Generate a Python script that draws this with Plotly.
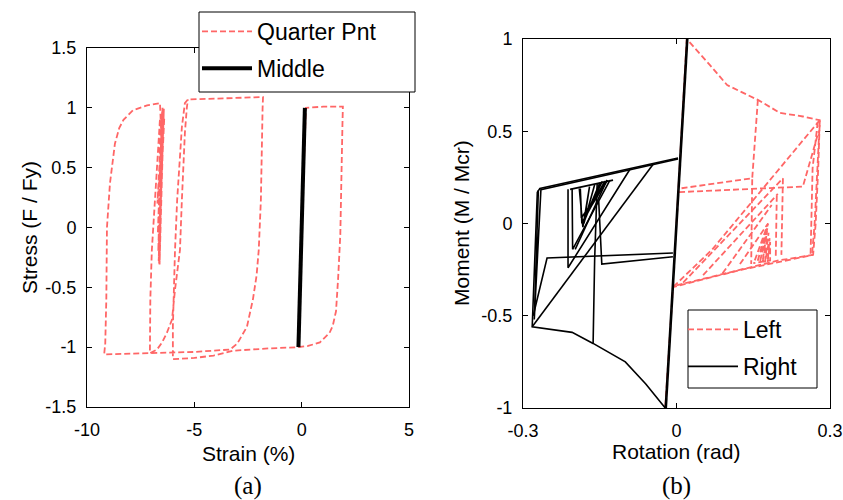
import plotly.graph_objects as go

# ---------------- Panel (a): Stress-strain ----------------
qp_x = [0.0, 0.2, 1.0, 1.92, 1.9, 1.85, 1.8, 1.7, 1.6, 1.45, 1.3, 0.85, 0.3, -0.15,
        -1.5, -3.2, -4.1, -5.0, -6.0,
        -6.0, -5.95, -5.9, -5.8, -5.65, -5.58, -5.44, -5.3, -3.5, -1.8,
        -1.82, -1.85, -1.9, -2.0, -2.1, -2.27, -2.55, -3.0, -3.34, -5.0, -7.07, -9.2,
        -9.15, -9.1, -9.07, -8.93, -8.7, -8.5, -8.3, -7.86, -7.2, -6.6,
        -6.5, -6.65, -6.45, -6.55, -6.62, -6.42, -6.6, -6.45, -6.65, -6.42, -6.58, -6.64, -6.45,
        -6.7, -6.5, -6.68, -6.4, -6.72, -6.48, -6.66, -6.44, -6.62,
        -6.6, -6.74, -6.88, -6.98, -7.05, -7.07,
        -6.74, -6.5, -6.28, -6.04, -5.9, -5.75, -5.67, -5.58, -5.5, -5.44, -5.35, -5.3]
qp_y = [0.0, 1.0, 1.01, 1.01, 0.86, 0.5, -0.06, -0.42, -0.7, -0.82, -0.88, -0.96, -0.99, -1.0,
        -1.01, -1.03, -1.07, -1.09, -1.1,
        -0.83, -0.5, -0.19, 0.23, 0.6, 0.84, 1.04, 1.07, 1.08, 1.09,
        1.0, 0.79, 0.23, -0.19, -0.4, -0.6, -0.83, -0.97, -1.02, -1.04, -1.05, -1.06,
        -0.97, -0.6, 0.0, 0.37, 0.7, 0.83, 0.9, 0.98, 1.02, 1.04,
        0.6, -0.25, 0.98, 0.3, -0.31, 1.0, 0.0, 0.95, -0.15, 0.99, 0.1, -0.3, 1.0,
        -0.05, 0.97, -0.2, 0.92, 0.2, 1.0, -0.28, 0.96, 0.4,
        0.91, 0.5, 0.09, -0.19, -0.6, -1.05,
        -1.02, -0.96, -0.88, -0.77, -0.52, -0.3, -0.19, 0.23, 0.6, 0.79, 1.0, 1.07]

mid_x = [-0.15, -0.05, 0.05, 0.15]
mid_y = [-1.0, -0.33, 0.33, 1.0]

strain_ticks = [-10, -5, 0, 5]
strain_text = ["-10", "-5", "0", "5"]
stress_ticks = [-1.5, -1.0, -0.5, 0.0, 0.5, 1.0, 1.5]
stress_text = ["-1.5", "-1", "-0.5", "0", "0.5", "1", "1.5"]

# ---------------- Panel (b): Moment-rotation ----------------
left_x = [0.0, 0.02, 0.065, 0.099, 0.159, 0.202, 0.247, 0.28, 0.277, 0.272, 0.267, 0.12, -0.007, -0.022, None,
          0.276, 0.266, 0.262, None,
          0.28, 0.27, 0.265, None,
          0.28, 0.07, -0.007, None,
          0.159, 0.148, 0.007, None,
          0.005, 0.247, 0.278, None,
          0.208, 0.205, None,
          0.196, 0.194, None,
          0.148, 0.146, None,
          0.013, 0.208, None,
          0.052, 0.198, None,
          0.09, 0.186, None,
          0.124, 0.179, None,
          0.0, 0.2, 0.267, None,
          0.153, 0.179, 0.158, 0.178, 0.163, 0.177, 0.168, 0.18, 0.173, 0.182, 0.178, 0.183, 0.183, 0.15]
left_y = [0.0, 1.0, 0.86, 0.75, 0.67, 0.6, 0.58, 0.56, 0.3, 0.0, -0.17, -0.255, -0.345, -1.0, None,
          0.55, 0.3, -0.17, None,
          0.555, 0.0, -0.165, None,
          0.56, -0.14, -0.345, None,
          0.67, 0.245, 0.19, None,
          0.17, 0.2, 0.5, None,
          0.245, -0.17, None,
          0.15, -0.18, None,
          0.24, -0.22, None,
          -0.32, 0.245, None,
          -0.28, 0.16, None,
          -0.27, 0.1, None,
          -0.22, 0.0, None,
          -0.335, -0.2, -0.17, None,
          -0.2, 0.0, -0.21, -0.02, -0.21, -0.04, -0.21, -0.05, -0.21, -0.08, -0.21, -0.1, -0.2, -0.215]

right_x = [0.02, -0.022, -0.06, -0.1, -0.163, -0.204, -0.282, -0.272, -0.267, 0.003, None,
           0.022, -0.02, None,
           0.003, -0.265, -0.278, -0.27, None,
           -0.28, -0.253, -0.007, None,
           -0.282, -0.046, None,
           -0.163, -0.16, -0.155, None,
           -0.152, -0.146, -0.007, None,
           -0.212, -0.212, -0.09, None,
           -0.204, -0.203, -0.13, None,
           -0.208, -0.124, None,
           -0.19, -0.183, -0.17, -0.181, -0.16, -0.179, -0.15, -0.177, -0.14, -0.174, -0.135, -0.186, -0.188, -0.185, -0.145, None,
           -0.198, -0.136]
right_y = [1.0, -1.0, -0.87, -0.75, -0.65, -0.59, -0.56, 0.17, 0.19, 0.355, None,
           1.0, -1.0, None,
           0.35, 0.183, -0.52, 0.18, None,
           -0.5, -0.187, -0.16, None,
           -0.56, 0.32, None,
           -0.65, -0.2, 0.22, None,
           0.12, -0.22, -0.18, None,
           0.185, -0.24, 0.298, None,
           0.19, -0.14, 0.235, None,
           0.185, 0.235, None,
           0.19, -0.02, 0.2, 0.0, 0.21, 0.02, 0.22, 0.04, 0.23, 0.06, 0.235, 0.03, 0.19, 0.0, 0.228, None,
           -0.14, 0.235]

rot_ticks = [-0.3, 0.0, 0.3]
rot_text = ["-0.3", "0", "0.3"]
mom_ticks = [-1.0, -0.5, 0.0, 0.5, 1.0]
mom_text = ["-1", "-0.5", "0", "0.5", "1"]

RED = "rgb(255,102,102)"
DASH = "6px,3px"
W, H = 843, 500

fig = go.Figure()
fig.add_trace(go.Scatter(x=qp_x, y=qp_y, mode="lines", name="Quarter Pnt", legendgroup="a1",
                         line=dict(color=RED, width=1.8, dash=DASH),
                         xaxis="x", yaxis="y", legend="legend"))
fig.add_trace(go.Scatter(x=mid_x, y=mid_y, mode="lines", name="Middle", legendgroup="a2",
                         line=dict(color="black", width=4),
                         xaxis="x", yaxis="y", legend="legend"))
fig.add_trace(go.Scatter(x=left_x, y=left_y, mode="lines", name="Left", legendgroup="b1",
                         line=dict(color=RED, width=1.8, dash=DASH), connectgaps=False,
                         xaxis="x2", yaxis="y2", legend="legend2"))
fig.add_trace(go.Scatter(x=right_x, y=right_y, mode="lines", name="Right", legendgroup="b2",
                         line=dict(color="black", width=1.6), connectgaps=False,
                         xaxis="x2", yaxis="y2", legend="legend2"))

# pixel -> paper helpers
def px(x):
    return x / W

def py(y):
    return 1 - y / H

axis_common = dict(showline=True, linecolor="black", linewidth=1, mirror="allticks",
                   ticks="inside", ticklen=5, tickcolor="black", showgrid=False,
                   zeroline=False, automargin=False,
                   tickfont=dict(family="Liberation Sans", size=18, color="black"))

legend_font = dict(family="Liberation Sans", size=23, color="black")
fig.update_layout(
    width=W, height=H, margin=dict(l=0, r=0, t=0, b=0, pad=0, autoexpand=False),
    paper_bgcolor="white", plot_bgcolor="white",
    xaxis=dict(domain=[px(87), px(409)], range=[-10, 5], tickvals=strain_ticks, ticktext=strain_text,
               anchor="y", ticklabelstandoff=6, **axis_common),
    yaxis=dict(domain=[py(407), py(48)], range=[-1.5, 1.5], tickvals=stress_ticks, ticktext=stress_text,
               anchor="x", ticklabelstandoff=6, **axis_common),
    xaxis2=dict(domain=[px(523), px(830)], range=[-0.3, 0.3], tickvals=rot_ticks, ticktext=rot_text,
                anchor="y2", ticklabelstandoff=6, **axis_common),
    yaxis2=dict(domain=[py(408), py(39)], range=[-1, 1], tickvals=mom_ticks, ticktext=mom_text,
                anchor="x2", ticklabelstandoff=6, **axis_common),
    legend=dict(x=px(197), y=py(10), xanchor="left", yanchor="top", bgcolor="rgba(0,0,0,0)",
                borderwidth=0, itemwidth=50, tracegroupgap=4, font=legend_font),
    legend2=dict(x=px(683), y=py(308), xanchor="left", yanchor="top", bgcolor="rgba(0,0,0,0)",
                 borderwidth=0, itemwidth=50, tracegroupgap=4, font=legend_font),
    showlegend=True,
)

# legend frames
for (x0, y0, x1, y1) in [(199, 12, 415, 92), (688, 310, 817, 388)]:
    fig.add_shape(type="rect", xref="paper", yref="paper", layer="above",
                  x0=px(x0), x1=px(x1), y0=py(y1), y1=py(y0),
                  line=dict(color="black", width=1), fillcolor="white")

title_font = dict(family="Liberation Sans", size=21, color="black")
cap_font = dict(family="Liberation Serif", size=25, color="black")
annotations = [
    dict(text="Strain (%)", x=px(248), y=py(453), font=title_font),
    dict(text="Stress (F / Fy)", x=px(30), y=py(228), textangle=-90, font=title_font),
    dict(text="Rotation (rad)", x=px(676), y=py(451), font=title_font),
    dict(text="Moment (M / Mcr)", x=px(462), y=py(223), textangle=-90, font=title_font),
    dict(text="(a)", x=px(248), y=py(486), font=cap_font),
    dict(text="(b)", x=px(676), y=py(486), font=cap_font),
]
for a in annotations:
    fig.add_annotation(xref="paper", yref="paper", showarrow=False,
                       xanchor="center", yanchor="middle", **a)

fig.write_html("out.html")
